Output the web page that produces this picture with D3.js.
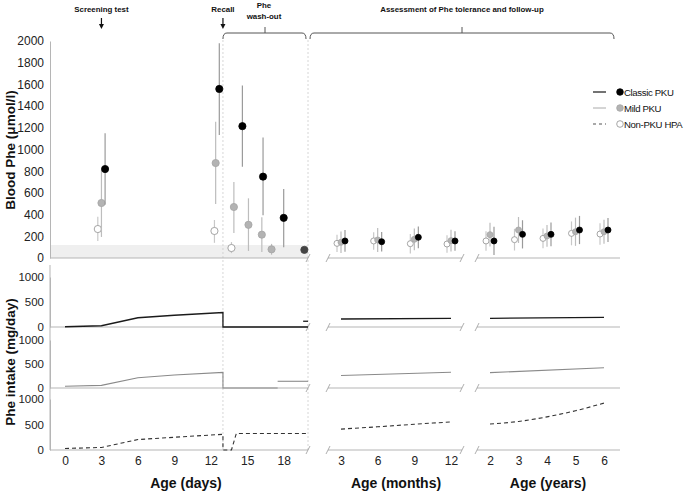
<!DOCTYPE html>
<html><head><meta charset="utf-8">
<script src="https://cdn.jsdelivr.net/npm/d3@7"></script>
<style>body{margin:0;background:#fff}svg{font-family:Arial,"Liberation Sans",sans-serif}</style>
</head><body><svg id="c" width="685" height="492"></svg>
<script>
// ---------- DATA ----------
const dayTicks = [0, 3, 6, 9, 12, 15, 18];
const monthTicks = [3, 6, 9, 12];
const yearTicks = [2, 3, 4, 5, 6];
const pheTicks = [0, 200, 400, 600, 800, 1000, 1200, 1400, 1600, 1800, 2000];
const intakeTicks = [0, 500, 1000];
const seriesNames = ["Classic PKU", "Mild PKU", "Non-PKU HPA"];

// Blood Phe, days (day, mean, low, high)
const classicDayX = [3.3, 12.7, 14.6, 16.3, 18.0, 19.7];
const classicDayMean = [820, 1558, 1215, 750, 370, 75];
const classicDayLow = [490, 1134, 840, 395, 100, 75];
const classicDayHigh = [1150, 1980, 1590, 1110, 635, 75];
const mildDayX = [3.0, 12.4, 13.9, 15.1, 16.2, 17.0];
const mildDayMean = [507, 875, 470, 306, 215, 80];
const mildDayLow = [194, 497, 230, 65, 55, 30];
const mildDayHigh = [810, 1255, 700, 550, 375, 130];
const hpaDayX = [2.7, 12.3, 13.7];
const hpaDayMean = [267, 249, 92];
const hpaDayLow = [157, 140, 45];
const hpaDayHigh = [380, 350, 147];

// Blood Phe, months (3,6,9,12)
const classicMonthMean = [157, 150, 191, 157];
const classicMonthSD = [100, 90, 100, 90];
const mildMonthMean = [145, 166, 172, 160];
const mildMonthSD = [100, 110, 100, 100];
const hpaMonthMean = [135, 157, 132, 129];
const hpaMonthSD = [80, 80, 90, 80];

// Blood Phe, years (2..6)
const classicYearMean = [157, 218, 218, 258, 258];
const classicYearSD = [130, 130, 110, 130, 110];
const mildYearMean = [215, 258, 203, 242, 242];
const mildYearSD = [110, 120, 100, 130, 110];
const hpaYearMean = [157, 169, 181, 227, 221];
const hpaYearSD = [90, 100, 90, 110, 100];

// Phe intake (mg/day)
const classicIntakeDays = [[0, 5], [3, 25], [6, 185], [9, 235], [13, 290], [13, 0], [20, 0]];
const classicIntakeDaysEnd = [[19.6, 115], [20, 115]];
const classicIntakeMonths = [[3, 160], [12, 174]];
const classicIntakeYears = [[2, 174], [6, 194]];
const mildIntakeDays = [[0, 35], [3, 55], [6, 215], [9, 270], [13, 325], [13, 0], [17.5, 0]];
const mildIntakeDaysEnd = [[17.5, 140], [20, 140]];
const mildIntakeMonths = [[3, 260], [12, 327]];
const mildIntakeYears = [[2, 320], [6, 422]];
const hpaIntakeDays = [[0, 30], [3, 50], [6, 205], [9, 250], [13, 307], [13, 0], [13.7, 0], [14.1, 325], [20, 325]];
const hpaIntakeMonths = [[3, 410], [6, 455], [9, 505], [12, 550]];
const hpaIntakeYears = [[2, 510], [3, 560], [4, 650], [5, 770], [6, 920]];

// ---------- SCALES ----------
const svg = d3.select("#c");
const xD = d3.scaleLinear().domain([0, 20]).range([65, 308]);
const xM = d3.scaleLinear().domain([3, 12]).range([341, 451]);
const xY = d3.scaleLinear().domain([2, 6]).range([490, 604]);
const yP = d3.scaleLinear().domain([0, 2000]).range([258, 41]);
const yI = [
  d3.scaleLinear().domain([0, 1000]).range([327, 277]),
  d3.scaleLinear().domain([0, 1000]).range([388, 340]),
  d3.scaleLinear().domain([0, 1000]).range([450, 399])
];
const axisCol = "#b5b5b5";
const segs = [[50, 308], [328, 462], [477, 620]];
const fmt = d3.format("d");

// shaded reference band
svg.append("rect").attr("x", 50).attr("y", yP(120)).attr("width", 258).attr("height", yP(0) - yP(120)).attr("fill", "#efefef");

// vertical dotted guide lines
[13, 20].forEach(d => svg.append("line").attr("x1", xD(d)).attr("x2", xD(d)).attr("y1", 40).attr("y2", 452)
  .attr("stroke", "#ccc").attr("stroke-width", 0.8).attr("stroke-dasharray", "2,2"));

// horizontal axis segments with break marks
const baselines = [yP(0), yI[0](0), yI[1](0), yI[2](0)];
baselines.forEach(by => {
  segs.forEach(s => svg.append("line").attr("x1", s[0]).attr("x2", s[1]).attr("y1", by).attr("y2", by).attr("stroke", axisCol));
  [308, 328, 462, 477].forEach(bx => svg.append("line").attr("x1", bx - 2).attr("x2", bx + 2).attr("y1", by + 4).attr("y2", by - 4).attr("stroke", "#999").attr("stroke-width", 0.8));
});

// Y axes
function yAxis(scale, ticks, fs) {
  const g = svg.append("g").attr("transform", "translate(50,0)")
    .call(d3.axisLeft(scale).tickValues(ticks).tickFormat(fmt).tickSize(0).tickPadding(6));
  g.select(".domain").attr("stroke", axisCol);
  g.selectAll("text").attr("font-size", fs).attr("fill", "#222").attr("font-family", "Arial, Liberation Sans, sans-serif");
  return g;
}
yAxis(yP, pheTicks, 12);
yI.forEach(s => yAxis(s, intakeTicks, 11.5));
svg.append("line").attr("x1", 50).attr("x2", 50).attr("y1", 265).attr("y2", 450).attr("stroke", axisCol);

// X tick labels
function xAxis(scale, ticks) {
  const g = svg.append("g").attr("transform", "translate(0,450)")
    .call(d3.axisBottom(scale).tickValues(ticks).tickFormat(fmt).tickSize(0).tickPadding(6));
  g.select(".domain").remove();
  g.selectAll("text").attr("font-size", 12).attr("fill", "#222").attr("font-family", "Arial, Liberation Sans, sans-serif");
}
xAxis(xD, dayTicks); xAxis(xM, monthTicks); xAxis(xY, yearTicks);

// Axis titles
const bold = (t, x, y, size, rot) => {
  const e = svg.append("text").attr("x", x).attr("y", y).attr("text-anchor", "middle").attr("font-weight", "bold")
    .attr("font-size", size).attr("fill", "#111").text(t);
  if (rot) e.attr("transform", `rotate(-90,${x},${y})`);
  return e;
};
bold("Age (days)", 186, 488, 14);
bold("Age (months)", 396, 488, 14);
bold("Age (years)", 548, 488, 14);
bold("Blood Phe (μmol/l)", 15, 150, 13.5, true);
bold("Phe intake (mg/day)", 15, 362, 13.5, true);

// Intake lines
const style = [
  {stroke: "#1a1a1a", w: 1.3, dash: null, dot: "#000", dotStroke: "#000", bar: "#9a9a9a"},
  {stroke: "#8a8a8a", w: 1.1, dash: null, dot: "#b3b3b3", dotStroke: "#a5a5a5", bar: "#bdbdbd"},
  {stroke: "#333", w: 1.1, dash: "4,3", dot: "#fff", dotStroke: "#8f8f8f", bar: "#c8c8c8"}
];
const intake = [
  [[classicIntakeDays, xD], [classicIntakeDaysEnd, xD], [classicIntakeMonths, xM], [classicIntakeYears, xY]],
  [[mildIntakeDays, xD], [mildIntakeDaysEnd, xD], [mildIntakeMonths, xM], [mildIntakeYears, xY]],
  [[hpaIntakeDays, xD], [hpaIntakeMonths, xM], [hpaIntakeYears, xY]]
];
intake.forEach((parts, i) => {
  parts.forEach(([data, xs]) => {
    const curve = data.length > 2 && xs !== xD ? d3.curveMonotoneX : d3.curveLinear;
    const line = d3.line().x(d => xs(d[0])).y(d => yI[i](d[1])).curve(curve);
    const p = svg.append("path").attr("d", line(data)).attr("fill", "none")
      .attr("stroke", style[i].stroke).attr("stroke-width", style[i].w);
    if (style[i].dash) p.attr("stroke-dasharray", style[i].dash);
  });
});

// Blood Phe points
function points(si, xs, xv, mean, lo, hi, r, dx) {
  const st = style[si];
  const data = xv.map((x, k) => ({x, m: mean[k], lo: lo[k], hi: hi[k]}));
  svg.append("g").selectAll("line").data(data.filter(d => d.hi > d.lo)).join("line")
    .attr("x1", d => xs(d.x) + dx).attr("x2", d => xs(d.x) + dx)
    .attr("y1", d => yP(d.lo)).attr("y2", d => yP(d.hi))
    .attr("stroke", st.bar).attr("stroke-width", 1.2);
  svg.append("g").selectAll("circle").data(data).join("circle")
    .attr("cx", d => xs(d.x) + dx).attr("cy", d => yP(d.m)).attr("r", r)
    .attr("fill", st.dot).attr("stroke", st.dotStroke).attr("stroke-width", 0.8);
}
// days
points(2, xD, hpaDayX, hpaDayMean, hpaDayLow, hpaDayHigh, 3.6, 0);
points(1, xD, mildDayX, mildDayMean, mildDayLow, mildDayHigh, 3.6, 0);
points(0, xD, classicDayX, classicDayMean, classicDayLow, classicDayHigh, 3.6, 0);
svg.selectAll("circle").filter(function () { return +d3.select(this).attr("cx") > 300; }).attr("fill", "#444").attr("stroke", "#444");
// months / years
const lo = (m, s) => m.map((v, k) => v - s[k]);
const hi = (m, s) => m.map((v, k) => v + s[k]);
[[xM, monthTicks, [classicMonthMean, mildMonthMean, hpaMonthMean], [classicMonthSD, mildMonthSD, hpaMonthSD]],
 [xY, yearTicks, [classicYearMean, mildYearMean, hpaYearMean], [classicYearSD, mildYearSD, hpaYearSD]]]
  .forEach(([xs, xv, means, sds]) => {
    [2, 1, 0].forEach(si => points(si, xs, xv, means[si], lo(means[si], sds[si]), hi(means[si], sds[si]), 3, [4, 0, -4][si]));
  });

// Legend
const leg = svg.append("g");
seriesNames.forEach((n, i) => {
  const y = 92 + i * 16;
  const l = leg.append("line").attr("x1", 593).attr("x2", 606).attr("y1", y).attr("y2", y)
    .attr("stroke", ["#444", "#aaa", "#555"][i]).attr("stroke-width", [1.5, 1, 1.2][i]);
  if (i === 2) l.attr("stroke-dasharray", "3,3");
  leg.append("circle").attr("cx", 620).attr("cy", y).attr("r", 3.3)
    .attr("fill", style[i].dot).attr("stroke", style[i].dotStroke).attr("stroke-width", 0.8);
  leg.append("text").attr("x", 624).attr("y", y + 3.5).attr("font-size", 9.6)
    .attr("letter-spacing", "-0.35px").attr("fill", "#111").text(n);
});

// Top annotations
const small = (t, x, y) => svg.append("text").attr("x", x).attr("y", y).attr("text-anchor", "middle")
  .attr("font-size", 7.9).attr("font-weight", "bold").attr("fill", "#111").text(t);
small("Screening test", xD(3), 12);
small("Recall", xD(13), 12);
small("Phe", 264, 8);
small("wash-out", 264, 19);
small("Assessment of Phe tolerance and follow-up", 462, 12);
function arrow(x) {
  svg.append("line").attr("x1", x).attr("x2", x).attr("y1", 18).attr("y2", 27).attr("stroke", "#111").attr("stroke-width", 1.2);
  svg.append("path").attr("d", `M${x - 2.5},24 L${x},29 L${x + 2.5},24 Z`).attr("fill", "#111");
}
arrow(xD(3)); arrow(xD(13));
function brace(x0, x1, xm) {
  const y = 33;
  svg.append("path").attr("fill", "none").attr("stroke", "#555").attr("stroke-width", 1)
    .attr("d", `M${x0},39 Q${x0},${y} ${x0 + 4},${y} L${x1 - 4},${y} Q${x1},${y} ${x1},39 M${xm},${y} L${xm},27`);
}
brace(xD(13), 306, 265);
brace(310, 614, 462);
</script></body></html>
